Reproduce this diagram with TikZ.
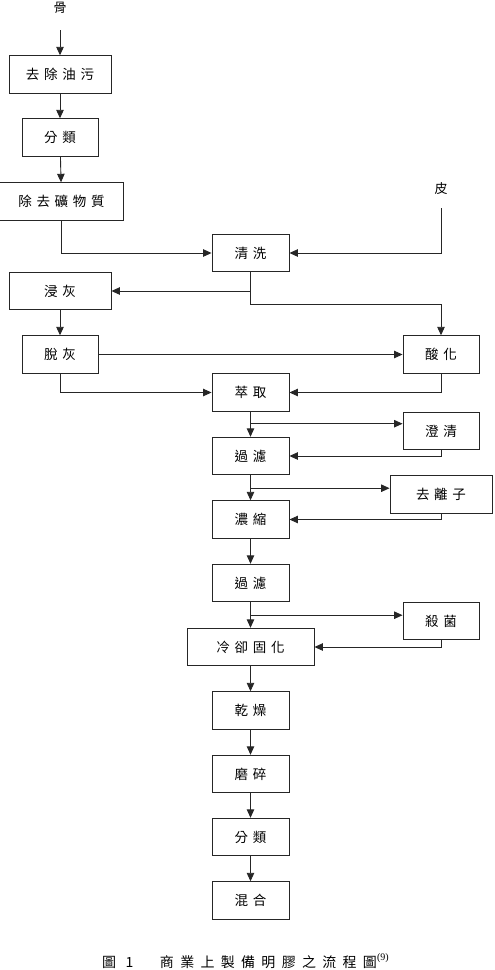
\documentclass[tikz,border=0pt]{standalone}
\usepackage{fontspec}
\newfontfamily\cjk[LetterSpace=35]{Noto Sans CJK TC}
\newfontfamily\cjkcap[LetterSpace=45]{Noto Sans CJK TC}
\newfontfamily\capnum{Liberation Serif}
\usetikzlibrary{arrows.meta,calc}
\begin{document}
\begin{tikzpicture}[x=1pt,y=-1pt,
  pbox/.style={draw=black!85,line width=0.9pt,minimum height=37.5pt,inner sep=0pt,
    font=\cjk\fontsize{13.5}{15}\selectfont,text=black},
  arr/.style={draw=black!85,line width=0.9pt,-{Triangle[length=8.5pt,width=7.5pt]}},
  ln/.style={draw=black!85,line width=0.9pt},
  lbl/.style={font=\cjk\fontsize{13}{15}\selectfont,inner sep=0pt}]
\useasboundingbox (0,0) rectangle (495,970);
% inputs
\node[lbl] (bone) at (60,8) {骨};
\coordinate (bonestart) at (60,30);
\node[lbl] (skin) at (441,189) {皮};
\coordinate (skinstart) at (441,208);
% left column
\node[pbox,minimum width=102pt] (b1) at (60,74.5) {去除油污};
\node[pbox,minimum width=76pt] (b2) at (60,137.5) {分類};
\node[pbox,minimum width=124pt] (b3) at (61.5,201.5) {除去礦物質};
\node[pbox,minimum width=102pt] (lime) at (60,291) {浸灰};
\node[pbox,minimum width=76pt] (delime) at (60,354.5) {脫灰};
% main column
\node[pbox,minimum width=77pt] (wash) at (250.5,253) {清洗};
\node[pbox,minimum width=77pt] (extract) at (250.5,392.5) {萃取};
\node[pbox,minimum width=77pt] (filt1) at (250.5,456) {過濾};
\node[pbox,minimum width=77pt] (conc) at (250.5,519.5) {濃縮};
\node[pbox,minimum width=77pt] (filt2) at (250.5,583) {過濾};
\node[pbox,minimum width=127pt] (cool) at (250.5,647) {冷卻固化};
\node[pbox,minimum width=77pt] (dry) at (250.5,710.5) {乾燥};
\node[pbox,minimum width=77pt] (grind) at (250.5,774) {磨碎};
\node[pbox,minimum width=77pt] (class2) at (250.5,837) {分類};
\node[pbox,minimum width=77pt] (mix) at (250.5,900.5) {混合};
% right column
\node[pbox,minimum width=76pt] (acid) at (441,354.5) {酸化};
\node[pbox,minimum width=76pt] (clarify) at (441,431) {澄清};
\node[pbox,minimum width=102pt] (deion) at (441,494.5) {去離子};
\node[pbox,minimum width=76pt] (steril) at (441,621) {殺菌};
% caption
\node[inner sep=0pt,anchor=west] (cap) at (102,961)
  {\cjkcap\fontsize{14}{16}\selectfont 圖 1\hspace{1.9em}商業上製備明膠之流程圖\raisebox{0.5em}{\capnum\fontsize{10}{12}\selectfont (9)}};
% connectors
\draw[arr] (bonestart) -- (b1);
\draw[arr] (b1) -- (b2);
\draw[arr] (b2) -- (b3);
\draw[arr] (b3.south) |- (wash.west);
\draw[arr] (skinstart) |- (wash.east);
\draw[arr] (wash.south) |- (lime.east);
\coordinate (j1) at ($(wash.south)+(0,32)$);
\draw[arr] (wash.south) -- (j1) -| (acid.north);
\draw[arr] (lime) -- (delime);
\draw[arr] (delime) -- (acid);
\draw[arr] (delime.south) |- (extract.west);
\draw[arr] (acid.south) |- (extract.east);
% extract -> filter, with clarification loop
\draw[arr] (extract) -- (filt1);
\coordinate (br1) at ($(extract.south)+(0,12)$);
\draw[arr] (br1) -- (br1 -| clarify.west);
\draw[arr] (clarify.south) |- (filt1.east);
% filter -> concentrate, with deionisation loop
\draw[arr] (filt1) -- (conc);
\coordinate (br2) at ($(filt1.south)+(0,13)$);
\draw[arr] (br2) -- (br2 -| deion.west);
\draw[arr] (deion.south) |- (conc.east);
\draw[arr] (conc) -- (filt2);
% filter -> cool, with sterilisation loop
\draw[arr] (filt2) -- (cool);
\coordinate (br3) at ($(filt2.south)+(0,13)$);
\draw[arr] (br3) -- (br3 -| steril.west);
\draw[arr] (steril.south) |- (cool.east);
\draw[arr] (cool) -- (dry);
\draw[arr] (dry) -- (grind);
\draw[arr] (grind) -- (class2);
\draw[arr] (class2) -- (mix);
\end{tikzpicture}
\end{document}
